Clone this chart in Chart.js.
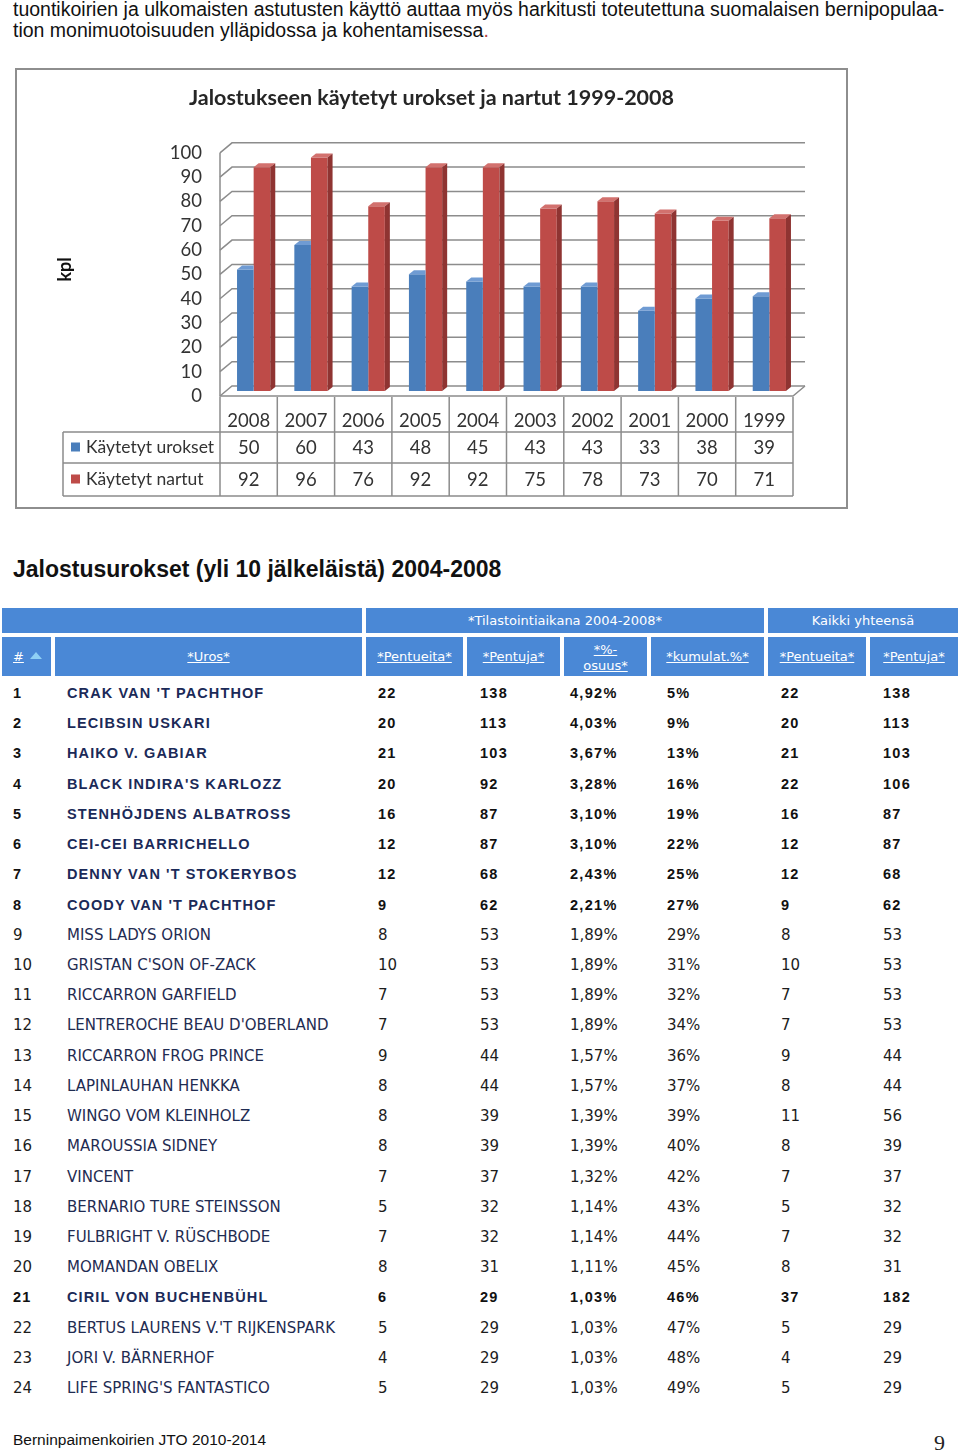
<!DOCTYPE html>
<html>
<head>
<meta charset="utf-8">
<script src="https://cdn.jsdelivr.net/npm/chart.js@4.4.0/dist/chart.umd.min.js"></script>
<style>
  body { margin: 0; background: #fff; width: 960px; height: 1453px; position: relative; overflow: hidden; font-family: "Liberation Sans", Arial, sans-serif; }
  .abs { position: absolute; white-space: nowrap; }
  .intro { font-size: 19.5px; line-height: 21px; color: #111; }
  #box { position: absolute; left: 15px; top: 68px; width: 829px; height: 437px; border: 2px solid #8e8e8e; }
  #box canvas { display: block; }
  .heading { left: 13px; top: 556px; font-size: 23px; font-weight: bold; color: #111; }
  .hcell { position: absolute; background: #4a88d6; color: #fff; font-family: "DejaVu Sans", Verdana, sans-serif; font-size: 13px; text-align: center; }
  .hcell u { text-decoration: underline; }
  .cell { position: absolute; white-space: nowrap; font-family: "DejaVu Sans", Verdana, sans-serif; font-size: 15px; color: #1c1c1c; }
  .cell.name { color: #1f2c52; }
  .cell.b { font-family: "Liberation Sans", Arial, sans-serif; font-weight: bold; font-size: 14.5px; letter-spacing: 1.3px; color: #111; }
  .cell.b.name { color: #1b2a58; letter-spacing: 1.1px; }
  .footer { left: 13px; top: 1431px; font-size: 15.5px; color: #111; }
  .pageno { left: 934px; top: 1430px; font-family: "Liberation Serif", "Times New Roman", serif; font-size: 22px; color: #222; }
</style>
</head>
<body>

<div class="abs intro" style="left:13px; top:-1px;">tuontikoirien ja ulkomaisten astutusten käyttö auttaa myös harkitusti toteutettuna suomalaisen bernipopulaa-</div>
<div class="abs intro" style="left:13px; top:20px;">tion monimuotoisuuden ylläpidossa ja kohentamisessa<span style="color:#b5423c">.</span></div>

<div id="box"><canvas id="chart" width="829" height="437"></canvas></div>

<div class="abs heading">Jalostusurokset (yli 10 jälkeläistä) 2004-2008</div>
<div id="tbl"></div>

<div class="abs footer">Berninpaimenkoirien JTO 2010-2014</div>
<div class="abs pageno">9</div>

<script>
// chart data
const years = ['2008', '2007', '2006', '2005', '2004', '2003', '2002', '2001', '2000', '1999'];
const males = [50, 60, 43, 48, 45, 43, 43, 33, 38, 39];
const females = [92, 96, 76, 92, 92, 75, 78, 73, 70, 71];
const seriesNames = ['Käytetyt urokset', 'Käytetyt nartut'];

// table data
const ranks = [1, 2, 3, 4, 5, 6, 7, 8, 9, 10, 11, 12, 13, 14, 15, 16, 17, 18, 19, 20, 21, 22, 23, 24];
const sires = ["CRAK VAN 'T PACHTHOF", 'LECIBSIN USKARI', 'HAIKO V. GABIAR', "BLACK INDIRA'S KARLOZZ",
  'STENHÖJDENS ALBATROSS', 'CEI-CEI BARRICHELLO', "DENNY VAN 'T STOKERYBOS", "COODY VAN 'T PACHTHOF",
  'MISS LADYS ORION', "GRISTAN C'SON OF-ZACK", 'RICCARRON GARFIELD', "LENTREROCHE BEAU D'OBERLAND",
  'RICCARRON FROG PRINCE', 'LAPINLAUHAN HENKKA', 'WINGO VOM KLEINHOLZ', 'MAROUSSIA SIDNEY',
  'VINCENT', 'BERNARIO TURE STEINSSON', 'FULBRIGHT V. RÜSCHBODE', 'MOMANDAN OBELIX',
  'CIRIL VON BUCHENBÜHL', "BERTUS LAURENS V.'T RIJKENSPARK", 'JORI V. BÄRNERHOF', "LIFE SPRING'S FANTASTICO"];
const litters = [22, 20, 21, 20, 16, 12, 12, 9, 8, 10, 7, 7, 9, 8, 8, 8, 7, 5, 7, 8, 6, 5, 4, 5];
const pups = [138, 113, 103, 92, 87, 87, 68, 62, 53, 53, 53, 53, 44, 44, 39, 39, 37, 32, 32, 31, 29, 29, 29, 29];
const share = ['4,92%', '4,03%', '3,67%', '3,28%', '3,10%', '3,10%', '2,43%', '2,21%', '1,89%', '1,89%', '1,89%', '1,89%',
  '1,57%', '1,57%', '1,39%', '1,39%', '1,32%', '1,14%', '1,14%', '1,11%', '1,03%', '1,03%', '1,03%', '1,03%'];
const cumul = ['5%', '9%', '13%', '16%', '19%', '22%', '25%', '27%', '29%', '31%', '32%', '34%',
  '36%', '37%', '39%', '40%', '42%', '43%', '44%', '45%', '46%', '47%', '48%', '49%'];
const totalLitters = [22, 20, 21, 22, 16, 12, 12, 9, 8, 10, 7, 7, 9, 8, 11, 8, 7, 5, 7, 8, 37, 5, 4, 5];
const totalPups = [138, 113, 103, 106, 87, 87, 68, 62, 53, 53, 53, 53, 44, 44, 56, 39, 37, 32, 32, 31, 182, 29, 29, 29];
const boldRanks = [1, 2, 3, 4, 5, 6, 7, 8, 21];

const blue = ['#4a7ebb', '#6f9bd3', '#3a6599'];
const red = ['#be4b48', '#d2716e', '#8f3432'];
const labelFont = '"Lato", "Open Sans", sans-serif';

// fake 3D: walls, floor and bar faces
const DX = 12, DY = 10;
const box3d = {
  id: 'box3d',
  beforeDatasetsDraw(chart) {
    const { ctx, chartArea: a, scales: { y } } = chart;
    ctx.save();
    ctx.strokeStyle = '#8c8c8c';
    ctx.lineWidth = 1.5;
    y.ticks.forEach(t => {
      const py = y.getPixelForValue(t.value);
      ctx.beginPath();
      ctx.moveTo(a.left, py + DY / 2);
      ctx.lineTo(a.left + DX, py - DY / 2);
      ctx.lineTo(a.right + DX, py - DY / 2);
      ctx.stroke();
    });
    const top = y.getPixelForValue(100) + DY / 2;
    const base = y.getPixelForValue(0) + DY / 2;
    ctx.beginPath();
    ctx.moveTo(a.left, top);
    ctx.lineTo(a.left, base);
    ctx.lineTo(a.right, base);
    ctx.lineTo(a.right + DX, base - DY);
    ctx.stroke();
    ctx.restore();
    // bars stand in the middle of the floor
    ctx.save();
    ctx.translate(DX / 2 - 1, 0);
  },
  afterDatasetsDraw(chart) {
    const ctx = chart.ctx;
    const metas = chart.getSortedVisibleDatasetMetas();
    const d = 5, h = 4;
    metas.forEach((meta, di) => {
      const last = di === metas.length - 1;
      const pal = di === 0 ? blue : red;
      meta.data.forEach(bar => {
        const { x, y, base, width } = bar.getProps(['x', 'y', 'base', 'width'], true);
        const l = x - width / 2, r = x + width / 2;
        ctx.fillStyle = pal[1];
        ctx.beginPath();
        ctx.moveTo(l, y);
        ctx.lineTo(l + d, y - h);
        ctx.lineTo(last ? r + d : r, y - h);
        ctx.lineTo(r, y);
        ctx.closePath();
        ctx.fill();
        if (last) {
          ctx.fillStyle = pal[2];
          ctx.beginPath();
          ctx.moveTo(r, y);
          ctx.lineTo(r + d, y - h);
          ctx.lineTo(r + d, base - h);
          ctx.lineTo(r, base);
          ctx.closePath();
          ctx.fill();
        }
      });
    });
    ctx.restore();
  },
  // data table under the plot
  afterDraw(chart) {
    const { ctx, chartArea: a, scales: { x } } = chart;
    const w = x.width / years.length;
    const r0 = a.bottom + 6, r1 = a.bottom + 41, r2 = a.bottom + 72, r3 = a.bottom + 105;
    const legLeft = 46;
    ctx.save();
    ctx.strokeStyle = '#8c8c8c';
    ctx.lineWidth = 1.5;
    ctx.beginPath();
    [r1, r2, r3].forEach(ry => { ctx.moveTo(legLeft, ry); ctx.lineTo(a.right, ry); });
    ctx.moveTo(legLeft, r1); ctx.lineTo(legLeft, r3);
    for (let i = 0; i <= years.length; i++) {
      const bx = x.getPixelForValue(0) - w / 2 + i * w;
      ctx.moveTo(bx, r0); ctx.lineTo(bx, r3);
    }
    ctx.stroke();

    ctx.textBaseline = 'middle';
    const rows = [[males, blue[0], (r1 + r2) / 2], [females, red[0], (r2 + r3) / 2]];
    rows.forEach(([vals, col, cy], k) => {
      ctx.font = '18.5px ' + labelFont;
      ctx.textAlign = 'center';
      ctx.fillStyle = '#333';
      vals.forEach((v, i) => ctx.fillText(String(v), x.getPixelForValue(i), cy + 1));
      ctx.fillStyle = col;
      ctx.fillRect(legLeft + 8, cy - 5, 9, 9);
      ctx.fillStyle = '#333';
      ctx.textAlign = 'left';
      ctx.font = '17.5px ' + labelFont;
      ctx.fillText(seriesNames[k], legLeft + 23, cy);
    });
    ctx.restore();
  }
};

new Chart(document.getElementById('chart'), {
  type: 'bar',
  data: {
    labels: years,
    datasets: [
      { label: seriesNames[0], data: males, backgroundColor: blue[0] },
      { label: seriesNames[1], data: females, backgroundColor: red[0] }
    ]
  },
  options: {
    responsive: false,
    animation: false,
    devicePixelRatio: 1,
    categoryPercentage: 0.58,
    barPercentage: 1,
    layout: { padding: 0 },
    plugins: {
      legend: { display: false },
      tooltip: { enabled: false },
      title: {
        display: true,
        text: 'Jalostukseen käytetyt urokset ja nartut 1999-2008',
        color: '#262626',
        font: { family: labelFont, size: 21.5, weight: 'bold' },
        padding: { top: 15, bottom: 37 }
      }
    },
    scales: {
      x: {
        grid: { display: false, drawTicks: false },
        border: { display: false },
        ticks: { color: '#333', font: { family: labelFont, size: 18.5 }, padding: 19 },
        afterFit: s => { s.height = 116; }
      },
      y: {
        min: 0,
        max: 100,
        grid: { display: false, drawTicks: false },
        border: { display: false },
        ticks: { stepSize: 10, autoSkip: false, labelOffset: 5, color: '#333', font: { family: labelFont, size: 18.5 }, padding: 18 },
        title: {
          display: true,
          text: 'kpl',
          color: '#111',
          font: { family: labelFont, size: 18, weight: 'bold' },
          padding: { top: 37, bottom: 0 }
        },
        afterFit: s => { s.width = 203; }
      },
      // empty right axis only keeps room on the right so the title stays centred on the box
      right: {
        position: 'right',
        grid: { display: false },
        border: { display: false },
        ticks: { display: false },
        afterFit: s => { s.width = 53; }
      }
    }
  },
  plugins: [box3d]
});

// HTML table
const tbl = document.getElementById('tbl');
function hcell(x1, x2, top, height, html) {
  const el = document.createElement('div');
  el.className = 'hcell';
  el.style.left = x1 + 'px';
  el.style.top = top + 'px';
  el.style.width = (x2 - x1) + 'px';
  el.style.height = height + 'px';
  el.innerHTML = html;
  tbl.appendChild(el);
  return el;
}
hcell(2, 362, 608, 25, '');
hcell(366, 764, 608, 25, '<div style="line-height:25px">*Tilastointiaikana 2004-2008*</div>');
hcell(768, 958, 608, 25, '<div style="line-height:25px">Kaikki yhteensä</div>');
const heads = [[2, 51, '#'], [55, 362, '*Uros*'], [366, 463, '*Pentueita*'], [467, 560, '*Pentuja*'],
  [564, 647, '*%-<br>osuus*'], [651, 764, '*kumulat.%*'], [768, 866, '*Pentueita*'], [870, 958, '*Pentuja*']];
heads.forEach(([x1, x2, t], i) => {
  let html;
  if (i === 0) {
    html = '<div style="text-align:left;padding-left:11px;line-height:39px"><u>#</u>' +
      '<span style="display:inline-block;margin-left:6px;width:0;height:0;border-left:6px solid transparent;border-right:6px solid transparent;border-bottom:7px solid #8fd0f5;vertical-align:2px"></span></div>';
  } else if (t.includes('<br>')) {
    html = '<div style="padding-top:5px;line-height:16px"><u>' + t + '</u></div>';
  } else {
    html = '<div style="line-height:39px"><u>' + t + '</u></div>';
  }
  hcell(x1, x2, 637, 39, html);
});

const colX = [13, 67, 378, 480, 570, 667, 781, 883];
ranks.forEach((rk, i) => {
  const cy = 693 + i * 30.22;
  const vals = [rk, sires[i], litters[i], pups[i], share[i], cumul[i], totalLitters[i], totalPups[i]];
  const bold = boldRanks.includes(rk);
  vals.forEach((v, c) => {
    const el = document.createElement('div');
    el.className = 'cell' + (bold ? ' b' : '') + (c === 1 ? ' name' : '');
    el.textContent = v;
    el.style.left = colX[c] + 'px';
    el.style.top = (cy - 10) + 'px';
    el.style.lineHeight = '20px';
    tbl.appendChild(el);
  });
});
</script>
</body>
</html>
